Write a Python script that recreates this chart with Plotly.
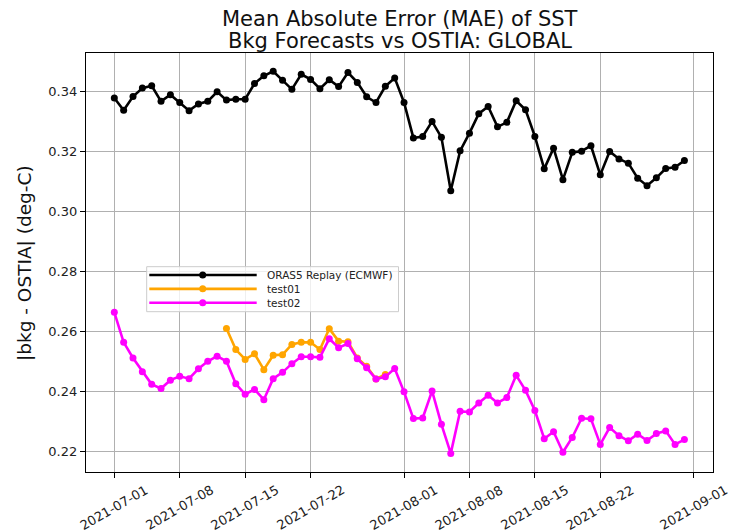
import pandas as pd
import plotly.graph_objects as go

# ---------------- data ----------------
start_date = "2021-07-01"
oras5_mae = [
    0.3379, 0.3338, 0.3384, 0.3412, 0.3420, 0.3368, 0.3390, 0.3364, 0.3337, 0.3359,
    0.3368, 0.3400, 0.3372, 0.3375, 0.3375, 0.3427, 0.3453, 0.3468, 0.3438, 0.3408,
    0.3458, 0.3441, 0.3410, 0.3440, 0.3417, 0.3464, 0.3431, 0.3383, 0.3364, 0.3418,
    0.3446, 0.3364, 0.3246, 0.3251, 0.3301, 0.3248, 0.3070, 0.3203, 0.3262, 0.3327,
    0.3351, 0.3283, 0.3298, 0.3370, 0.3340, 0.3251, 0.3143, 0.3212, 0.3107, 0.3198,
    0.3202, 0.3220, 0.3123, 0.3201, 0.3176, 0.3162, 0.3112, 0.3087, 0.3113, 0.3144,
    0.3148, 0.3171,
]
test01_start = "2021-07-13"
test01_mae = [
    0.2611, 0.2541, 0.2508, 0.2527, 0.2474, 0.2522, 0.2524, 0.2558, 0.2565, 0.2565,
    0.2541, 0.2610, 0.2569, 0.2567, 0.2513, 0.2485, 0.2443, 0.2458,
]
test02_mae = [
    0.2665, 0.2565, 0.2513, 0.2467, 0.2425, 0.2411, 0.2439, 0.2452, 0.2444, 0.2477,
    0.2502, 0.2519, 0.2502, 0.2427, 0.2392, 0.2408, 0.2374, 0.2444, 0.2465, 0.2494,
    0.2517, 0.2517, 0.2515, 0.2577, 0.2547, 0.2561, 0.2510, 0.2480, 0.2443, 0.2450,
    0.2478, 0.2400, 0.2311, 0.2313, 0.2403, 0.2292, 0.2195, 0.2335, 0.2333, 0.2363,
    0.2389, 0.2363, 0.2381, 0.2455, 0.2405, 0.2338, 0.2244, 0.2267, 0.2199, 0.2248,
    0.2312, 0.2310, 0.2225, 0.2281, 0.2254, 0.2237, 0.2259, 0.2238, 0.2261, 0.2270,
    0.2225, 0.2241,
]
series_names = ["ORAS5 Replay (ECMWF)", "test01", "test02"]
x_tick_labels = ["2021-07-01", "2021-07-08", "2021-07-15", "2021-07-22",
                 "2021-08-01", "2021-08-08", "2021-08-15", "2021-08-22", "2021-09-01"]
y_tick_values = [0.22, 0.24, 0.26, 0.28, 0.30, 0.32, 0.34]
title_lines = ["Mean Absolute Error (MAE) of SST", "Bkg Forecasts vs OSTIA: GLOBAL"]
y_title = "|bkg - OSTIA| (deg-C)"

dates_main = pd.date_range(start_date, periods=len(oras5_mae), freq="D")
dates_t01 = pd.date_range(test01_start, periods=len(test01_mae), freq="D")
dates_t02 = pd.date_range(start_date, periods=len(test02_mae), freq="D")

colors = ["#000000", "#FFA500", "#FF00FF"]
FONT = "DejaVu Sans"

fig = go.Figure()
for name, xs, ys, c in [
    (series_names[0], dates_main, oras5_mae, colors[0]),
    (series_names[1], dates_t01, test01_mae, colors[1]),
    (series_names[2], dates_t02, test02_mae, colors[2]),
]:
    fig.add_trace(go.Scatter(
        x=xs, y=ys, name=name, mode="lines+markers",
        line=dict(color=c, width=2.6),
        marker=dict(color=c, size=7),
        showlegend=False,
    ))

# ---------------- layout geometry (pixels) ----------------
W, H = 729, 532
L, R, T, B = 86, 713, 53, 472
def px_x(p):
    return (p - L) / (R - L)
def px_y(p):
    return (B - p) / (B - T)

# ---------------- custom legend (matplotlib style) ----------------
shapes = [dict(type="rect", xref="paper", yref="paper",
               x0=px_x(146.7), x1=px_x(398.5), y0=px_y(311.7), y1=px_y(266.7),
               line=dict(color="#cccccc", width=1), fillcolor="rgba(255,255,255,0.8)",
               layer="above")]
annotations = []
for i, (name, c) in enumerate(zip(series_names, colors)):
    yy = px_y(275 + i * 13.85)
    shapes.append(dict(type="line", xref="paper", yref="paper",
                       x0=px_x(149.3), x1=px_x(256.7), y0=yy, y1=yy,
                       line=dict(color=c, width=2.6), layer="above"))
    shapes.append(dict(type="circle", xref="paper", yref="paper",
                       xsizemode="pixel", ysizemode="pixel",
                       xanchor=px_x(202.7), yanchor=yy,
                       x0=-3.5, x1=3.5, y0=-3.5, y1=3.5,
                       fillcolor=c, line=dict(color=c, width=0), layer="above"))
    annotations.append(dict(xref="paper", yref="paper", x=px_x(265), y=yy,
                            xanchor="left", yanchor="middle", showarrow=False,
                            text=name, font=dict(family=FONT, size=10.5, color="#222222")))

# title lines
for i, t in enumerate(title_lines):
    annotations.append(dict(xref="paper", yref="paper", x=0.5, y=px_y(19 + i * 22),
                            xanchor="center", yanchor="middle", showarrow=False,
                            text=t, font=dict(family=FONT, size=21, color="#111111")))

# x tick labels: centred on the tick, rotated 30 degrees (matplotlib style)
for lab in x_tick_labels:
    annotations.append(dict(xref="x", yref="paper", x=lab, y=px_y(507.5),
                            xanchor="center", yanchor="middle", showarrow=False,
                            textangle=-30, text=lab,
                            font=dict(family=FONT, size=13, color="#222222")))

# y axis title
annotations.append(dict(xref="paper", yref="paper", x=px_x(24), y=px_y(263),
                        xanchor="center", yanchor="middle", showarrow=False,
                        textangle=-90, text=y_title,
                        font=dict(family=FONT, size=18.5, color="#111111")))

fig.update_layout(
    width=W, height=H,
    margin=dict(l=L, r=W - R, t=T, b=H - B, autoexpand=False),
    paper_bgcolor="white", plot_bgcolor="white",
    font=dict(family=FONT, color="#222222"),
    shapes=shapes,
    annotations=annotations,
    showlegend=False,
    hovermode=False,
)

fig.update_xaxes(
    type="date", automargin=False,
    range=["2021-06-27 23:17", "2021-09-03 01:26"],
    tickvals=x_tick_labels, showticklabels=False,
    showgrid=True, gridcolor="#b0b0b0", gridwidth=1.2,
    showline=True, linecolor="black", linewidth=1.3, mirror=True,
    ticks="outside", ticklen=5, tickcolor="black", tickwidth=1.3,
    zeroline=False,
)
fig.update_yaxes(
    automargin=False,
    range=[0.2133, 0.3529],
    tickvals=y_tick_values, ticktext=[f"{v:.2f}" for v in y_tick_values],
    tickfont=dict(family=FONT, size=13, color="#222222"),
    showgrid=True, gridcolor="#b0b0b0", gridwidth=1.2,
    showline=True, linecolor="black", linewidth=1.3, mirror=True,
    ticks="outside", ticklen=5, tickcolor="black", tickwidth=1.3,
    zeroline=False,
)

fig.write_html(
    "out.html",
    config={"displayModeBar": False},
    post_script="document.body.style.margin='0';document.body.style.overflow='hidden';",
)
